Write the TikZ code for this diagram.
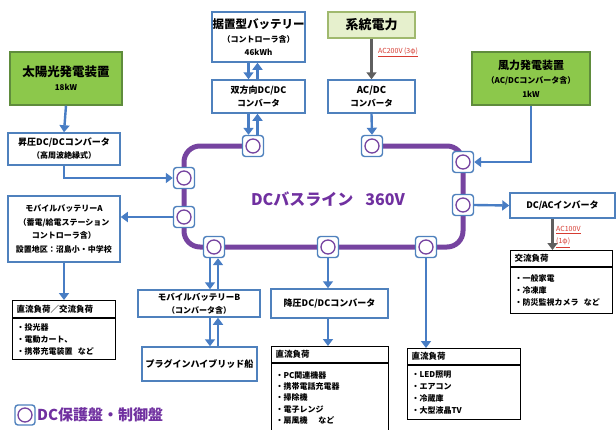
\documentclass[tikz,border=0pt]{standalone}
\usepackage{fontspec}
\setmainfont{Noto Sans CJK JP}
\usetikzlibrary{arrows.meta,calc}
\definecolor{boxblue}{RGB}{79,129,189}
\definecolor{arrblue}{RGB}{72,125,196}
\definecolor{buspurple}{RGB}{118,68,160}
\definecolor{txtpurple}{RGB}{112,48,160}
\definecolor{solargreen}{RGB}{140,200,75}
\definecolor{greenborder}{RGB}{95,140,60}
\definecolor{gridgreen}{RGB}{230,240,205}
\definecolor{gridborder}{RGB}{160,185,110}
\definecolor{arrgray}{RGB}{95,95,95}
\definecolor{labred}{RGB}{215,60,50}
\begin{document}
\begin{tikzpicture}[x=1pt,y=-1pt,
 bbox/.style={draw=boxblue, line width=1.5pt, fill=white, align=center, inner sep=0pt},
 gbox/.style={draw=greenborder, line width=1.2pt, fill=solargreen, align=center, inner sep=0pt},
 prot/.style={draw=boxblue, line width=1.4pt, fill=white, rounded corners=3pt, minimum size=21pt, inner sep=0pt,
   path picture={\draw[buspurple, line width=1.3pt] (path picture bounding box.center) circle (7pt);}},
 barrow/.style={draw=arrblue, line width=2.4pt, -{Triangle[length=7pt,width=10pt]}},
 garrow/.style={draw=arrgray, line width=2.4pt, -{Triangle[length=7pt,width=10pt]}},
 bus/.style={draw=buspurple, line width=5pt},
 lhead/.style={draw=black, line width=1.2pt, fill=white, anchor=north west, inner xsep=4pt, inner ysep=0pt, align=left, font=\fontsize{8.5}{10}\selectfont\bfseries},
 lbody/.style={draw=black, line width=1.2pt, fill=white, anchor=north west, inner xsep=4pt, inner ysep=0pt, align=left, font=\fontsize{8}{12}\selectfont\bfseries},
 lab/.style={text=labred, inner sep=0pt}
]
\useasboundingbox[fill=white] (0,0) rectangle (616,429);

% bus positions
\coordinate (pTL) at (253,146);
\coordinate (pTR) at (372,146);
\coordinate (pL1) at (184,178);
\coordinate (pL2) at (184,217);
\coordinate (pB1) at (214,247);
\coordinate (pB2) at (328,247);
\coordinate (pB3) at (426,247);
\coordinate (pR1) at (463,162);
\coordinate (pR2) at (463,205);
\coordinate (kTL) at (184,146);
\coordinate (kBL) at (184,247);
\coordinate (kBR) at (463,247);
\coordinate (kTR) at (463,146);
\draw[bus, rounded corners=16pt] (pTL) -- (kTL) -- (kBL) -- (kBR) -- (kTR) -- (pTR);

\foreach \n in {TL,TR,L1,L2,B1,B2,B3,R1,R2}{\node[prot] (c\n) at (p\n) {};}

\node[text=txtpurple, font=\fontsize{16}{18}\selectfont\bfseries, inner sep=0pt] (bustext) at (328,199) {DCバスライン\hspace{12pt}360V};

% boxes
\node[gbox, minimum width=112pt, minimum height=53pt] (solar) at (66,78.5)
  {{\fontsize{12.5}{14}\selectfont\bfseries 太陽光発電装置}\\[2pt]{\fontsize{8}{10}\selectfont\bfseries 18kW}};
\node[bbox, minimum width=112pt, minimum height=32pt] (boost) at (64,149)
  {{\fontsize{9}{11}\selectfont\bfseries 昇圧DC/DCコンバータ}\\[1pt]{\fontsize{8}{10}\selectfont\bfseries （高周波絶縁式）}};
\node[bbox, minimum width=112pt, minimum height=66pt, font=\fontsize{8}{13.7}\selectfont\bfseries] (mobA) at (64,229)
  {モバイルバッテリーA\\（蓄電/給電ステーション\\コントローラ含）\\設置地区：沼島小・中学校};
\node[bbox, minimum width=93pt, minimum height=50pt] (batt) at (258.5,37)
  {{\fontsize{11.5}{13}\selectfont\bfseries 据置型バッテリー}\\[2pt]{\fontsize{8}{10}\selectfont\bfseries （コントローラ含）}\\[1pt]{\fontsize{8}{10}\selectfont\bfseries 46kWh}};
\node[bbox, minimum width=93pt, minimum height=33pt] (bidir) at (258.5,96.5)
  {{\fontsize{9}{11}\selectfont\bfseries 双方向DC/DC}\\[1pt]{\fontsize{8.5}{10}\selectfont\bfseries コンバータ}};
\node[draw=gridborder, line width=1.2pt, fill=gridgreen, minimum width=87pt, minimum height=26pt, inner sep=0pt] (grid) at (371.5,25)
  {\fontsize{13}{15}\selectfont\bfseries 系統電力};
\node[bbox, minimum width=87pt, minimum height=33pt] (acdc) at (371.5,96.5)
  {{\fontsize{9.5}{11}\selectfont\bfseries AC/DC}\\[1pt]{\fontsize{8.5}{10}\selectfont\bfseries コンバータ}};
\node[gbox, minimum width=118pt, minimum height=53pt] (wind) at (531,78.5)
  {{\fontsize{11}{13}\selectfont\bfseries 風力発電装置}\\[2pt]{\fontsize{8}{10}\selectfont\bfseries （AC/DCコンバータ含）}\\[2pt]{\fontsize{8}{10}\selectfont\bfseries 1kW}};
\node[bbox, minimum width=105pt, minimum height=25pt] (inv) at (562.5,205.5)
  {\fontsize{9}{11}\selectfont\bfseries DC/ACインバータ};
\node[bbox, minimum width=122pt, minimum height=27pt] (mobB) at (199,303.5)
  {{\fontsize{8.5}{10}\selectfont\bfseries モバイルバッテリーB}\\[1pt]{\fontsize{8}{10}\selectfont\bfseries （コンバータ含）}};
\node[bbox, minimum width=115pt, minimum height=34pt] (phev) at (199.5,364)
  {\fontsize{9}{11}\selectfont\bfseries プラグインハイブリッド船};
\node[bbox, minimum width=117pt, minimum height=29pt] (buck) at (329.5,303.5)
  {\fontsize{9}{11}\selectfont\bfseries 降圧DC/DCコンバータ};

% load boxes
\node[lhead, text width=95pt, minimum height=17pt] (dcacH) at (12,300) {直流負荷／交流負荷};
\node[lbody, text width=95pt, minimum height=41pt] (dcacB) at (dcacH.south west) {・投光器\\・電動カート、\\・携帯充電装置\ \ など};
\node[lhead, text width=94pt, minimum height=16pt] (acH) at (510,250) {交流負荷};
\node[lbody, text width=94pt, minimum height=46pt] (acB) at (acH.south west) {・一般家電\\・冷凍庫\\・防災監視カメラ\ \ など};
\node[lhead, text width=109pt, minimum height=16pt] (dc1H) at (271,346) {直流負荷};
\node[lbody, text width=109pt, minimum height=68pt, font=\fontsize{8}{11.3}\selectfont\bfseries] (dc1B) at (dc1H.south west) {・PC関連機器\\・携帯電話充電器\\・掃除機\\・電子レンジ\\・扇風機\ \ \ \ など};
\node[lhead, text width=105pt, minimum height=16pt] (dc2H) at (407,348) {直流負荷};
\node[lbody, text width=105pt, minimum height=54pt] (dc2B) at (dc2H.south west) {・LED照明\\・エアコン\\・冷蔵庫\\・大型液晶TV};

% connectors
\draw[barrow] (solar.south) -- (boost.north);
\draw[barrow] (boost.south) |- (cL1.west);
\draw[barrow] (cL2.west) -- (mobA.east |- cL2.west);
\draw[barrow] (mobA.south) -- (mobA.south |- dcacH.north);
\draw[barrow] ($(batt.south -| cTL)+(-4.5,0)$) -- ($(bidir.north -| cTL)+(-4.5,0)$);
\draw[barrow] ($(bidir.north -| cTL)+(4.5,0)$) -- ($(batt.south -| cTL)+(4.5,0)$);
\draw[barrow] ($(bidir.south -| cTL)+(-4.5,0)$) -- ($(cTL.north)+(-4.5,0)$);
\draw[barrow] ($(cTL.north)+(4.5,0)$) -- ($(bidir.south -| cTL)+(4.5,0)$);
\draw[garrow] (grid.south) -- (acdc.north);
\node[lab, anchor=west, font=\fontsize{7}{8}\selectfont] (l200) at (378,52) {\underline{AC200V (3φ)}};
\draw[barrow] (acdc.south) -- (cTR.north);
\draw[barrow] (wind.south) |- (cR1.east);
\draw[barrow] (cR2.east) -- (inv.west);
\coordinate (invout) at ([xshift=-10pt]inv.south);
\draw[garrow] (invout) -- (invout |- acH.north);
\node[lab, anchor=west, align=left, font=\fontsize{7}{12}\selectfont] (l100) at (556,237) {\underline{AC100V}\\\underline{(1φ)}};
\draw[barrow] ($(cB1.south)+(-4,0)$) -- ($(cB1.south |- mobB.north)+(-4,0)$);
\draw[barrow] ($(cB1.south |- mobB.north)+(4,0)$) -- ($(cB1.south)+(4,0)$);
\draw[barrow] ($(cB1.south |- mobB.south)+(-4,0)$) -- ($(cB1.south |- phev.north)+(-4,0)$);
\draw[barrow] ($(cB1.south |- phev.north)+(4,0)$) -- ($(cB1.south |- mobB.south)+(4,0)$);
\draw[barrow] (cB2.south) -- (cB2.south |- buck.north);
\draw[barrow] (cB2.south |- buck.south) -- (cB2.south |- dc1H.north);
\draw[barrow] (cB3.south) -- (cB3.south |- dc2H.north);

% legend
\node[prot, minimum size=20pt] (legsym) at (25,415) {};
\node[anchor=west, text=txtpurple, font=\fontsize{15}{17}\selectfont\bfseries, inner sep=0pt] (legtext) at (37,415) {DC保護盤・制御盤};
\end{tikzpicture}
\end{document}
